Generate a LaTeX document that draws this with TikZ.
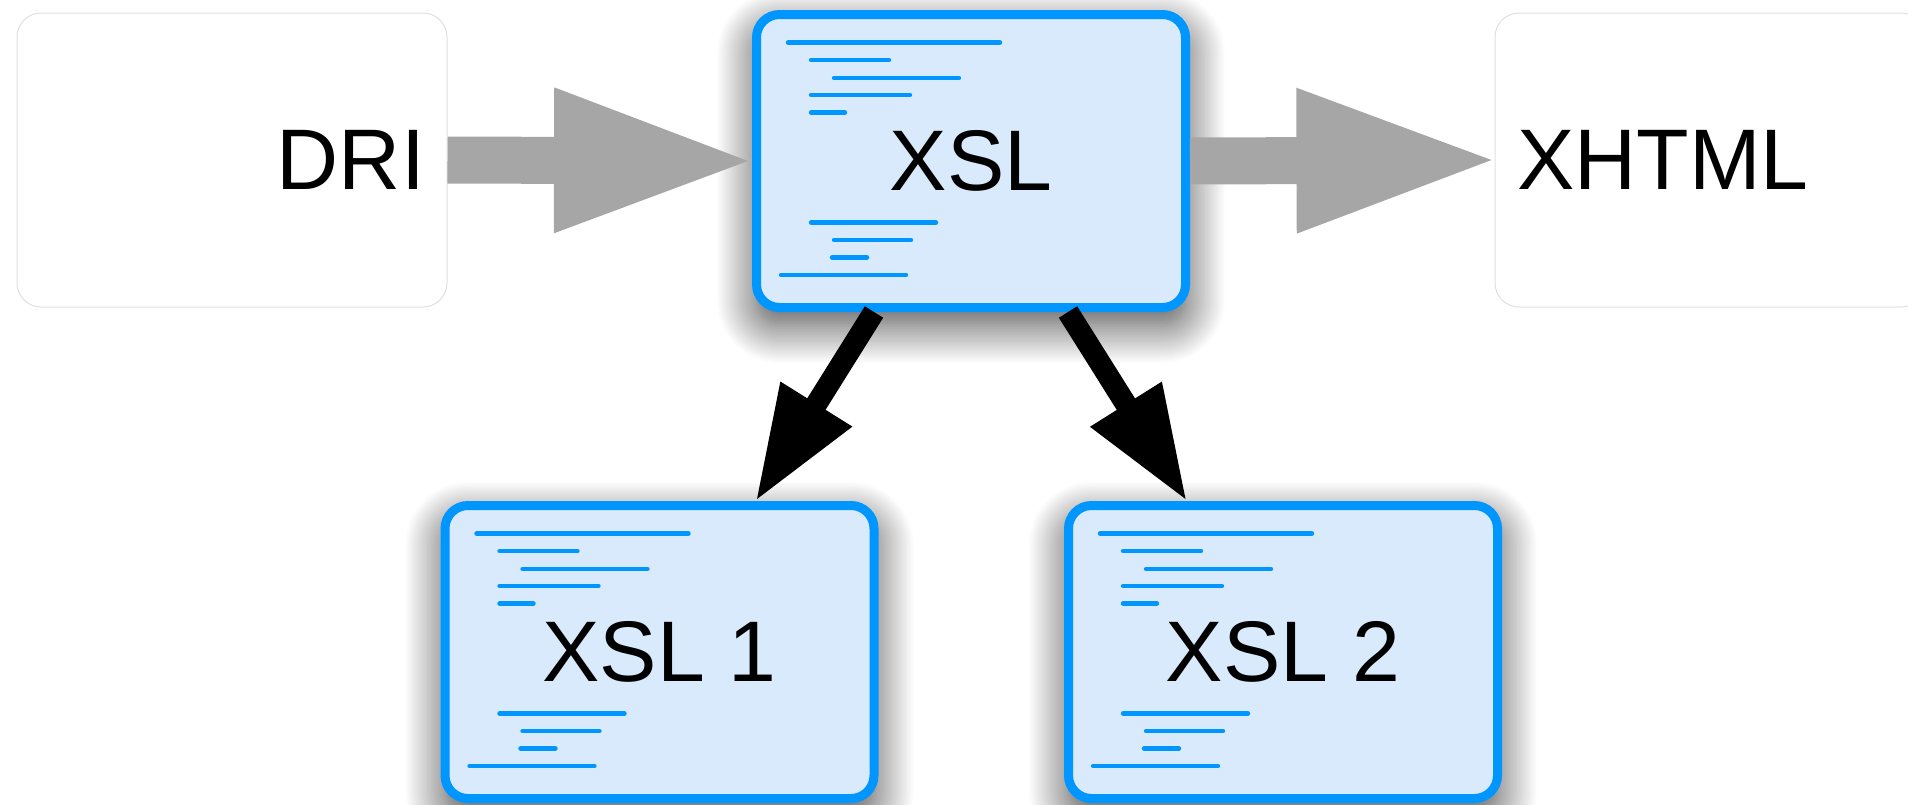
\documentclass[tikz,border=0pt]{standalone}
\usepackage{fontspec}
\setmainfont{Liberation Sans}
\usetikzlibrary{calc,shadows.blur}
\definecolor{boxblue}{RGB}{0,150,255}
\definecolor{boxfill}{RGB}{217,234,252}
\definecolor{arrowgrey}{RGB}{166,166,166}
\definecolor{plainedge}{RGB}{224,224,224}
\newcommand\bigfont{\fontsize{43}{50}\selectfont}
\newcommand\codelines[1]{%
  \begin{scope}[shift={(#1.north west)}]
    \draw[codeline] (36,32.5) -- (248,32.5);
    \draw[codeline] (59,50) -- (137,50);
    \draw[codeline] (82,68) -- (207,68);
    \draw[codeline] (59,85) -- (158,85);
    \draw[codeline] (59,102.5) -- (93,102.5);
    \draw[codeline] (59,212.5) -- (184,212.5);
    \draw[codeline] (82,230) -- (159,230);
    \draw[codeline] (80,247.5) -- (115,247.5);
    \draw[codeline] (29,265) -- (154,265);
  \end{scope}}
\newcommand\fatarrow[6]{%
  \path (#2) coordinate (fa-s) (#3) coordinate (fa-t);
  \path ($(fa-t)!#6!(fa-s)$) coordinate (fa-h);
  \fill[#1] ($(fa-s)!#4!90:(fa-t)$) -- ($(fa-h)!#4!-90:(fa-s)$)
    -- ($(fa-h)!#5!-90:(fa-s)$) -- (fa-t) -- ($(fa-h)!#5!90:(fa-s)$)
    -- ($(fa-h)!#4!90:(fa-s)$) -- ($(fa-s)!#4!-90:(fa-t)$) -- cycle;}
\tikzset{
  plainbox/.style={draw=plainedge, line width=0.5pt, fill=white, rounded corners=12pt,
    minimum width=215pt, minimum height=147pt, inner xsep=11pt, text width=193pt, font=\bigfont},
  bluebox/.style={draw=boxblue, line width=4.5pt, fill=boxfill, rounded corners=11.5pt,
    minimum width=214.5pt, minimum height=146.5pt, font=\bigfont,
    blur shadow={shadow xshift=0pt, shadow yshift=-8pt, shadow blur radius=20pt,
      shadow blur steps=30, shadow opacity=75}},
  codeline/.style={draw=boxblue, line width=2.2pt, line cap=round},
}
\begin{document}
\begin{tikzpicture}[x=0.5pt, y=-0.5pt]
  \useasboundingbox (0,0) rectangle (1908,804);
  \node[plainbox, align=right] (dri) at (232,160) {DRI};
  \node[plainbox, align=left] (xhtml) at (1710,160) {XHTML};
  \node[bluebox] (xsl) at (971,161) {XSL};
  \node[bluebox] (xsl1) at (659.5,652) {XSL 1};
  \node[bluebox] (xsl2) at (1283,652) {XSL 2};
  \codelines{xsl}
  \codelines{xsl1}
  \codelines{xsl2}
  \fatarrow{arrowgrey}{dri.east}{$(xsl.west)+(-4,0)$}{11.75pt}{36.5pt}{97pt}
  \fatarrow{arrowgrey}{xsl.east}{$(xhtml.west)+(-3,0)$}{11.75pt}{36.5pt}{97.5pt}
  \fatarrow{black}{$(xsl.south)+(-97,0)$}{$(xsl1.north)+(97.5,-2)$}{5.4pt}{21.25pt}{56pt}
  \fatarrow{black}{$(xsl.south)+(97,0)$}{$(xsl2.north)+(-97.5,-2)$}{5.4pt}{21.25pt}{56pt}
\end{tikzpicture}
\end{document}
